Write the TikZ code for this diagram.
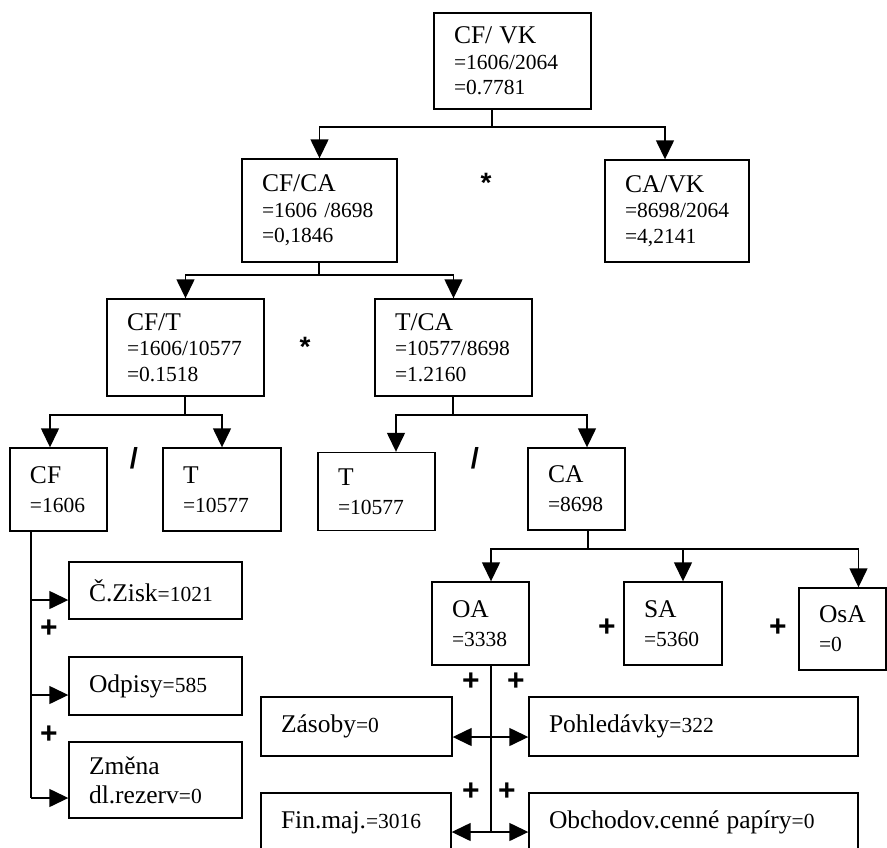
\documentclass[tikz,border=0pt]{standalone}
\usepackage{fontspec}
\setmainfont{Liberation Serif}
\newfontfamily\opfont{Liberation Sans}
\usetikzlibrary{arrows.meta}
% head line and number line sizes inside the boxes
\newcommand\hd{\fontsize{25.5}{25.5}\selectfont}
\newcommand\nm{\fontsize{21.5}{25.5}\selectfont}
\newcommand\nmw{\fontsize{21.5}{29}\selectfont}

\begin{document}
\begin{tikzpicture}[x=1pt,y=-1pt,
  box/.style={draw, line width=1.4pt, inner xsep=20pt, inner ysep=0pt, align=left, font=\nm},
  wbox/.style={box, font=\nmw},
  link/.style={line width=1.4pt},
  arr/.style={link, -{Triangle[length=19pt,width=18pt]}},
  op/.style={inner sep=0pt, anchor=base, font=\opfont\bfseries\fontsize{30}{30}\selectfont},
  opstar/.style={op, font=\opfont\bfseries\fontsize{28}{28}\selectfont},
  opslash/.style={op, font=\opfont\bfseries\fontsize{29}{29}\selectfont},
]
\clip (0,0) rectangle (887,847);

% ratio tree
\node[box, text width=117pt, minimum height=96pt]  (cfvk) at (512.5,61)    {{\hd CF/ VK}\\=1606/2064\\=0.7781};
\node[box, text width=115pt, minimum height=103pt] (cfca) at (319.5,210.5) {{\hd CF/CA}\\=1606 /8698\\=0,1846};
\node[box, text width=104pt, minimum height=102pt] (cavk) at (677,211)     {{\hd CA/VK}\\=8698/2064\\=4,2141};
\node[box, text width=117pt, minimum height=97pt]  (cft)  at (185.5,347.5) {{\hd CF/T}\\=1606/10577\\=0.1518};
\node[box, text width=117pt, minimum height=97pt]  (tca)  at (453.5,347.5) {{\hd T/CA}\\=10577/8698\\=1.2160};

\node[wbox, text width=57pt, minimum height=83pt] (cf) at (58.5,489.5)  {{\hd CF}\\=1606};
\node[wbox, text width=78pt, minimum height=83pt] (t1) at (222,489.5)   {{\hd T}\\=10577};
\node[wbox, text width=77pt, minimum height=78pt] (t2) at (376.5,491.5) {{\hd T}\\=10577};
\node[wbox, text width=57pt, minimum height=82pt] (ca) at (576.5,489)   {{\hd CA}\\=8698};

\node[wbox, text width=57pt, minimum height=83pt] (oa)  at (480.5,623.5) {{\hd OA}\\=3338};
\node[wbox, text width=58pt, minimum height=83pt] (sa)  at (673,623.5)   {{\hd SA}\\=5360};
\node[wbox, text width=47pt, minimum height=82pt] (osa) at (842.5,629)   {{\hd OsA}\\=0};

% cash-flow parts
\node[box,  text width=133pt, minimum height=57pt] (zisk)  at (155.5,590.5) {{\hd Č.Zisk}=1021};
\node[box,  text width=133pt, minimum height=58pt] (odp)   at (155.5,686)   {{\hd Odpisy}=585};
\node[wbox, text width=133pt, minimum height=76pt] (zmena) at (155.5,780)   {{\hd Změna}\\{\hd dl.rezerv}=0};

% current-asset parts
\node[box, text width=151pt, minimum height=59pt] (zas)  at (356.5,726.5) {{\hd Zásoby}=0};
\node[box, text width=289pt, minimum height=59pt] (pohl) at (693.5,726.5) {{\hd Pohledávky}=322};
\node[box, text width=150pt, minimum height=59pt] (fin)  at (356,822.5)   {{\hd Fin.maj.}=3016};
\node[box, text width=289pt, minimum height=59pt] (obch) at (693.5,822.5) {{\hd Obchodov.cenné papíry}=0};

% connectors
\coordinate (j1) at (492,127);
\draw[link] (j1 |- cfvk.south) -- (j1);
\draw[arr] (j1) -| (cfca.north);
\draw[arr] (j1) -| ([xshift=-12pt]cavk.north);

\coordinate (j2) at (319,275);
\draw[link] (j2 |- cfca.south) -- (j2);
\draw[arr] (j2) -| (cft.north);
\draw[arr] (j2) -| (tca.north);

\coordinate (j3) at (185,415);
\draw[link] (j3 |- cft.south) -- (j3);
\draw[arr] (j3) -| ([xshift=-8.5pt]cf.north);
\draw[arr] (j3) -| (t1.north);

\coordinate (j4) at (453,415);
\draw[link] (j4 |- tca.south) -- (j4);
\draw[arr] (j4) -| ([xshift=19.5pt]t2.north);
\draw[arr] (j4) -| ([xshift=10.5pt]ca.north);

\coordinate (j5) at (588,549);
\draw[link] (j5 |- ca.south) -- (j5);
\draw[arr] (j5) -| ([xshift=10.5pt]oa.north);
\draw[arr] (j5) -| ([xshift=10pt]sa.north);
\draw[arr] (j5) -| ([xshift=16pt]osa.north);

\coordinate (k0) at (31,798);
\coordinate (k1) at (31,600);
\coordinate (k2) at (31,695);
\draw[link] (k0 |- cf.south) -- (k0);
\draw[arr] (k1) -- (k1 -| zisk.west);
\draw[arr] (k2) -- (k2 -| odp.west);
\draw[arr] (k0) -- (k0 -| zmena.west);

\coordinate (m0) at (491,832);
\coordinate (m1) at (491,737);
\draw[link] (m0 |- oa.south) -- (m0);
\draw[arr] (m1) -- (m1 -| zas.east);
\draw[arr] (m1) -- (m1 -| pohl.west);
\draw[arr] (m0) -- (m0 -| fin.east);
\draw[arr] (m0) -- (m0 -| obch.west);

% operators
\node[opstar]  (x1) at (486,192) {*};
\node[opstar]  (x2) at (305,356) {*};
\node[opslash] (d1) at (134,468) {/};
\node[opslash] (d2) at (475,468) {/};
\node[op] (p1) at (607,636.5) {+};
\node[op] (p2) at (778,636.5) {+};
\node[op] (p3) at (49,637.5) {+};
\node[op] (p4) at (49,743.5) {+};
\node[op] (p5) at (471,690.5) {+};
\node[op] (p6) at (516,690.5) {+};
\node[op] (p7) at (471,800.5) {+};
\node[op] (p8) at (507,800.5) {+};
\end{tikzpicture}
\end{document}
